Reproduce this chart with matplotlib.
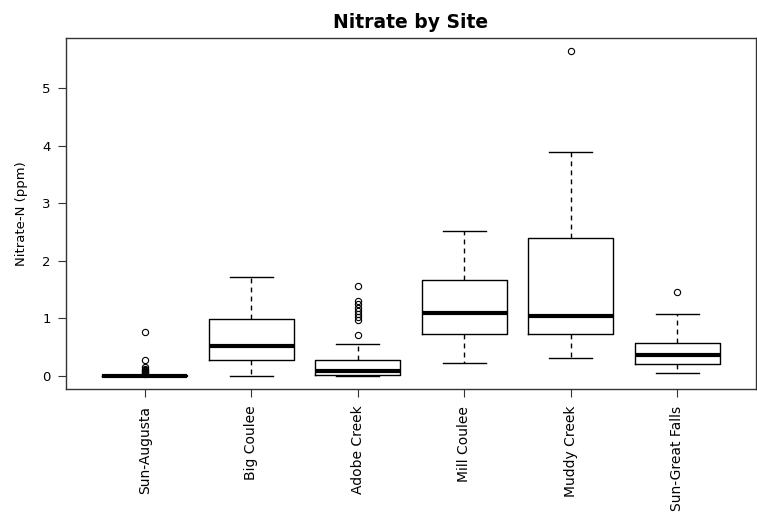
import matplotlib
matplotlib.use('Agg')
import matplotlib.pyplot as plt

plt.rcParams['font.family'] = ['DejaVu Sans']

sites = ['Sun-Augusta', 'Big Coulee', 'Adobe Creek', 'Mill Coulee', 'Muddy Creek', 'Sun-Great Falls']
medians = [0.0, 0.52, 0.09, 1.09, 1.04, 0.36]
q1 = [0.0, 0.28, 0.02, 0.73, 0.73, 0.20]
q3 = [0.01, 0.99, 0.28, 1.66, 2.40, 0.57]
whis_low = [0.0, 0.0, 0.0, 0.22, 0.31, 0.05]
whis_high = [0.02, 1.72, 0.55, 2.51, 3.88, 1.08]
outliers = [
    [0.03, 0.05, 0.07, 0.09, 0.11, 0.13, 0.15, 0.28, 0.77],
    [],
    [0.72, 0.98, 1.03, 1.08, 1.13, 1.18, 1.25, 1.31, 1.57],
    [],
    [5.64],
    [1.46],
]

stats = []
for i, name in enumerate(sites):
    stats.append({'label': name, 'med': medians[i], 'q1': q1[i], 'q3': q3[i],
                  'whislo': whis_low[i], 'whishi': whis_high[i], 'fliers': outliers[i]})

fig = plt.figure(figsize=(7.57, 5.17), dpi=100)
ax = fig.add_axes([66 / 757, 1 - 389 / 517, 690 / 757, 351 / 517])

ax.bxp(stats, positions=range(1, 7), widths=0.8, patch_artist=False,
       boxprops=dict(color='black', linewidth=1),
       medianprops=dict(color='black', linewidth=3, solid_capstyle='butt'),
       whiskerprops=dict(color='black', linewidth=1, linestyle=(0, (3.5, 3))),
       capprops=dict(color='black', linewidth=1),
       capwidths=0.4,
       flierprops=dict(marker='o', markerfacecolor='none', markeredgecolor='black',
                       markersize=4.5, markeredgewidth=0.8))

ax.set_xlim(0.26, 6.74)
ax.set_ylim(-0.2256, 5.8656)
ax.set_yticks([0, 1, 2, 3, 4, 5])
ax.set_xticks(range(1, 7))
ax.set_xticklabels(sites, rotation=90, fontsize=10)
ax.tick_params(axis='both', length=6, width=0.8, color='#333333', labelsize=9.5, pad=6)
ax.tick_params(axis='x', labelsize=10)
ax.tick_params(axis='y', pad=5)
for s in ax.spines.values():
    s.set_color('#333333')
    s.set_linewidth(1)

ax.set_ylabel('Nitrate-N (ppm)', fontsize=9.5, labelpad=10)
ax.set_title('Nitrate by Site', fontsize=13.5, fontweight='bold', pad=7)

fig.savefig('out.png', dpi=100)
